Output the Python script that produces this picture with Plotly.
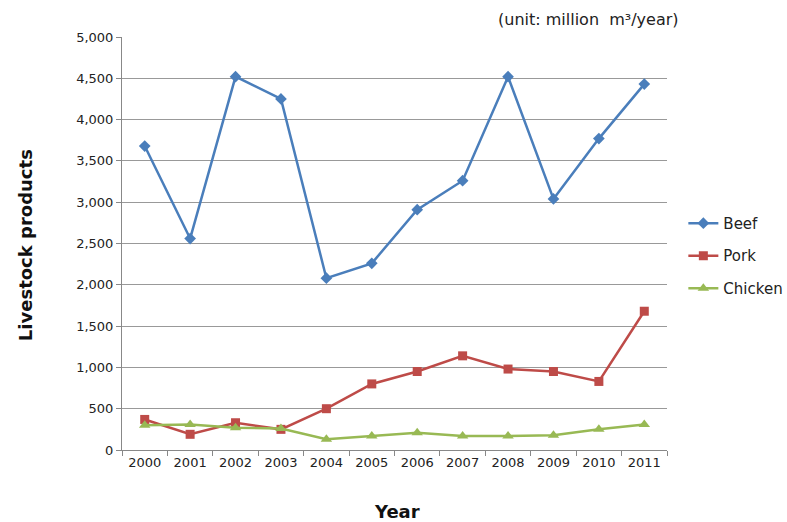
import plotly.graph_objects as go

years = ["2000", "2001", "2002", "2003", "2004", "2005",
         "2006", "2007", "2008", "2009", "2010", "2011"]
beef = [3680, 2560, 4520, 4250, 2080, 2260, 2910, 3260, 4520, 3040, 3770, 4430]
pork = [370, 190, 330, 250, 500, 800, 950, 1140, 980, 950, 830, 1680]
chicken = [300, 310, 270, 260, 130, 170, 210, 170, 170, 180, 250, 310]

series = [
    ("Beef", beef, "#4A7EBB", "diamond", 9),
    ("Pork", pork, "#BE4B48", "square", 9),
    ("Chicken", chicken, "#98B954", "triangle-up", 10),
]

font_family = "DejaVu Sans, Verdana, sans-serif"

fig = go.Figure()
for name, vals, color, symbol, size in series:
    fig.add_trace(go.Scatter(
        x=years, y=vals, name=name, mode="lines+markers", legendgroup=name,
        line=dict(color=color, width=2.5),
        marker=dict(symbol=symbol, size=size, color=color),
    ))

fig.update_layout(
    width=787, height=522,
    margin=dict(l=122, r=120, t=37, b=72, autoexpand=False),
    paper_bgcolor="white", plot_bgcolor="white",
    font=dict(family=font_family, size=13, color="#222"),
    showlegend=True,
    legend=dict(x=1.03, y=0.47, xanchor="left", yanchor="middle",
                font=dict(size=15, color="#222"), tracegroupgap=10,
                itemwidth=30, bgcolor="rgba(0,0,0,0)"),
    xaxis=dict(
        type="category", range=[-0.5, 11.5], automargin=False,
        showgrid=False, showline=True, linecolor="#888", linewidth=1,
        ticks="outside", tickson="boundaries", ticklen=5, tickcolor="#888",
        tickfont=dict(size=13, color="#222"),
    ),
    yaxis=dict(
        range=[0, 5000], dtick=500, tickformat=",", automargin=False,
        showgrid=True, gridcolor="#999", gridwidth=1,
        showline=True, linecolor="#888", linewidth=1,
        ticks="outside", ticklen=5, tickcolor="#888",
        tickfont=dict(size=13, color="#222"),
        zeroline=False,
    ),
    annotations=[
        dict(text="(unit: million  m³/year)", xref="paper", yref="paper",
             x=1.025, y=1.015, xanchor="right", yanchor="bottom", showarrow=False,
             font=dict(size=16, color="#222")),
        dict(text="<b>Year</b>", xref="paper", yref="paper",
             x=0.505, y=-0.148, xanchor="center", yanchor="middle", showarrow=False,
             font=dict(size=18, color="#111")),
        dict(text="<b>Livestock products</b>", xref="paper", yref="paper",
             x=-0.178, y=0.496, xanchor="center", yanchor="middle", showarrow=False,
             textangle=-90, font=dict(size=18, color="#111")),
    ],
)

fig.write_html("out.html")
